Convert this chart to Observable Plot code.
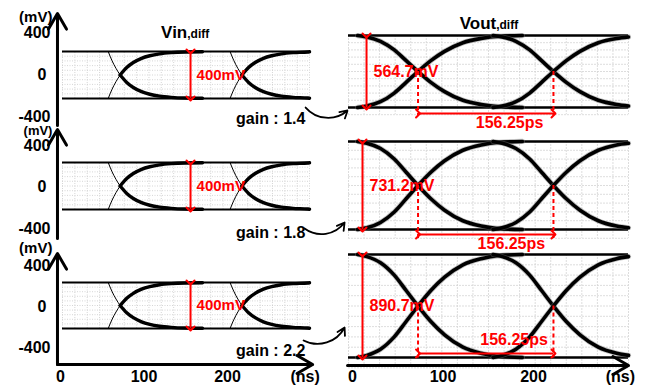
<!DOCTYPE html>
<html><head><meta charset="utf-8">
<script src="https://cdn.jsdelivr.net/npm/d3@7"></script>
<script src="https://cdn.jsdelivr.net/npm/@observablehq/plot@0.6"></script>
<style>
body{margin:0;background:#fff;}
#fig{position:relative;width:649px;height:390px;overflow:hidden;background:#fff;}
#fig svg{position:absolute;left:0;top:0;}
</style></head><body><div id="fig"></div>
<script>
// ---------------- data ----------------
const rowGains = ["gain : 1.4", "gain : 1.8", "gain : 2.2"];
const eyeOpening = ["564.7mV", "731.2mV", "890.7mV"];
const outLevel = [282.35, 365.6, 445.35];   // half eye height (mV)
const vinLevel = 200;                        // 400 mV peak-to-peak
const vinLabel = "400mV";
const uiLabel = "156.25ps";
const yTicks = [400, 0, -400];
const xTicks = [0, 100, 200];

// Vin,diff transitions (time in axis units, value in mV)
const vinPreT1 = [55.5, 60, 65, 70];
const vinPreT2 = [203.5, 208, 213, 218];
const vinPostT1 = [70, 78, 86, 96, 106, 118, 132, 150, 170];
const vinPostT2 = [218, 226, 234, 244, 254, 266, 280, 298, 300];
const vinPreFall = [200, 124, 56, 0];
const vinPreRise = [-200, -124, -56, 0];
const vinPostFall = [0, -63, -106, -142, -164, -180, -190, -196, -198];
const vinPostRise = [0, 63, 106, 142, 164, 180, 190, 196, 198];

// Vout,diff eye traces
const eyeT1 = [5, 15, 30, 45, 58, 71, 85, 100, 120, 140, 160, 185];
const eyeT2 = [153, 163, 178, 193, 206, 219, 233, 248, 268, 288, 301];
const outFall1 = [
  [282, 271, 237, 169, 85, 0, -85, -158, -226, -259, -276, -282],
  [366, 351, 307, 220, 110, 0, -110, -205, -293, -337, -359, -366],
  [445, 427, 374, 267, 134, 0, -134, -249, -356, -409, -436, -445]];
const outRise1 = [
  [-282, -271, -237, -169, -85, 0, 85, 158, 226, 259, 276, 282],
  [-366, -351, -307, -220, -110, 0, 110, 205, 293, 337, 359, 366],
  [-445, -427, -374, -267, -134, 0, 134, 249, 356, 409, 436, 445]];
const outFall2 = [
  [282, 271, 237, 169, 85, 0, -85, -158, -226, -259, -271],
  [366, 351, 307, 220, 110, 0, -110, -205, -293, -337, -351],
  [445, 427, 374, 267, 134, 0, -134, -249, -356, -409, -427]];
const outRise2 = [
  [-282, -271, -237, -169, -85, 0, 85, 158, 226, 259, 271],
  [-366, -351, -307, -220, -110, 0, 110, 205, 293, 337, 351],
  [-445, -427, -374, -267, -134, 0, 134, 249, 356, 409, 427]];

// ---------------- layout ----------------
const leftRowY = [[98, 51], [209, 162], [328, 282]];
const rightRowY = [[107, 35], [229, 141], [357, 254]];
const axisRowY = [[116, 32], [228, 145], [347, 265]];
const axisLine = [[-486, 581], [-496, 554], [-566, 517]];
const unitY = [545, 540, 566];
const unitSize = [15, 13, 15];
const gainY = [-370, -396, -391];
const curl = [[295.3, -277, 346.3, -302], [294, -362, 342.6, -311], [292.8, -304, 342.6, -191]];
const eyeArrowX = [14.7, 10.3, 10.3];
const eyeLabelX = [22.3, 18, 18];
const dashBottom = [-345, -457, -450];
const uiArrowY = [-329, -407, -411];
const uiLabelPos = [[171, -400], [173, -482], [176, -290]];
const crossT = [71, 219];

const FONT = "Liberation Sans, Arial, Helvetica, sans-serif";
const RED = "#f00";
const fig = document.getElementById("fig");
function layer(xs, ys, marks) {
  const svg = Plot.plot({
    width: 649, height: 390, margin: 0,
    x: {domain: xs.domain, range: xs.range, axis: null},
    y: {domain: ys.domain, range: ys.range, axis: null},
    style: {background: "transparent", overflow: "visible"},
    marks
  });
  fig.appendChild(svg);
}
const txt = (o) => ({fontFamily: FONT, fontWeight: "bold", ...o});

const lx = {domain: [0, 300], range: [62, 309]};
const rx = {domain: [-5, 301], range: [348, 628]};

for (let r = 0; r < 3; r++) {
  // ---- left y axis ----
  layer(lx, {domain: [-400, 400], range: axisRowY[r]}, [
    Plot.arrow([0], {x1: -6.1, x2: -6.1, y1: axisLine[r][0], y2: axisLine[r][1], strokeWidth: 3, headLength: 9, headAngle: 60, stroke: "#000"}),
    Plot.text(yTicks.filter(d => d !== 0), txt({x: -14.6, y: d => d, text: d => String(d), textAnchor: "end", fontSize: 16})),
    Plot.text(yTicks.filter(d => d === 0), txt({x: -14.6, y: d => d, text: d => String(d), textAnchor: "end", dx: -4, fontSize: 16})),
    Plot.text(["(mV)"], txt({x: -12.2, y: unitY[r], textAnchor: "end", fontSize: unitSize[r]}))
  ]);

  // ---- left panel: Vin,diff ----
  const ly = {domain: [-vinLevel, vinLevel], range: leftRowY[r]};
  const marksL = [
    Plot.ruleX(d3.range(0, 301, 15), {y1: -vinLevel, y2: vinLevel, stroke: "#c4c4c4", strokeWidth: 0.7, strokeDasharray: "1,1.5"}),
    Plot.ruleY(d3.range(-160, 161, 40), {x1: 0, x2: 300, stroke: "#c4c4c4", strokeWidth: 0.7, strokeDasharray: "1,1.5"}),
    Plot.ruleY([vinLevel, -vinLevel], {x1: 0, x2: 300, stroke: "#000", strokeWidth: 2}),
    Plot.line(d3.zip(vinPreT1, vinPreFall), {strokeWidth: 1, curve: "monotone-x"}),
    Plot.line(d3.zip(vinPreT1, vinPreRise), {strokeWidth: 1, curve: "monotone-x"}),
    Plot.line(d3.zip(vinPreT2, vinPreFall), {strokeWidth: 1, curve: "monotone-x"}),
    Plot.line(d3.zip(vinPreT2, vinPreRise), {strokeWidth: 1, curve: "monotone-x"}),
    Plot.line(d3.zip(vinPostT1, vinPostFall), {strokeWidth: 3.4, curve: "monotone-x"}),
    Plot.line(d3.zip(vinPostT1, vinPostRise), {strokeWidth: 3.4, curve: "monotone-x"}),
    Plot.line(d3.zip(vinPostT2, vinPostFall), {strokeWidth: 3.4, curve: "monotone-x"}),
    Plot.line(d3.zip(vinPostT2, vinPostRise), {strokeWidth: 3.4, curve: "monotone-x"}),
    Plot.link([0], {x1: 155.5, x2: 155.5, y1: vinLevel, y2: -vinLevel, stroke: RED, strokeWidth: 2, markerStart: "arrow", markerEnd: "arrow"}),
    Plot.text([vinLabel], txt({x: 162.8, y: 0, textAnchor: "start", fontSize: 15, fill: RED})),
    Plot.text([rowGains[r]], txt({x: 295, y: gainY[r], textAnchor: "end", fontSize: 16})),
    Plot.arrow([0], {x1: curl[r][0], y1: curl[r][1], x2: curl[r][2], y2: curl[r][3], bend: -45, strokeWidth: 1.8, headLength: 7, stroke: "#000"})
  ];
  if (r === 0) {
    marksL.push(
      Plot.text(["Vin"], txt({x: 151.5, y: 319, textAnchor: "end", lineAnchor: "bottom", fontSize: 17})),
      Plot.text([",diff"], txt({x: 151.5, y: 319, textAnchor: "start", lineAnchor: "bottom", fontSize: 12}))
    );
  }
  layer(lx, ly, marksL);

  // ---- right panel: Vout,diff ----
  const A = outLevel[r];
  const ry = {domain: [-A, A], range: rightRowY[r]};
  const eye = (t, v) => [
    Plot.line(d3.zip(t, v), {stroke: "#777", strokeWidth: 5.2, strokeOpacity: 0.45, curve: "monotone-x"}),
    Plot.line(d3.zip(t, v), {stroke: "#000", strokeWidth: 3.6, curve: "monotone-x"})
  ];
  const marksR = [
    Plot.ruleX(d3.range(-5, 302, 17), {y1: A, y2: -1.2 * A, stroke: "#d4d4d4", strokeWidth: 0.8, strokeDasharray: "2,1"}),
    Plot.ruleY(d3.range(-6, 5).map(k => k * 0.2 * A), {x1: -5, x2: 301, stroke: "#d4d4d4", strokeWidth: 0.8, strokeDasharray: "2,1"}),
    Plot.ruleY([A, -A], {x1: -5, x2: 301, stroke: "#000", strokeWidth: 2.5}),
    ...eye(eyeT1, outFall1[r]),
    ...eye(eyeT1, outRise1[r]),
    ...eye(eyeT2, outFall2[r]),
    ...eye(eyeT2, outRise2[r]),
    Plot.ruleX(crossT, {y1: 0, y2: dashBottom[r], stroke: RED, strokeWidth: 2, strokeDasharray: "4,3"}),
    Plot.link([0], {x1: eyeArrowX[r], x2: eyeArrowX[r], y1: A, y2: -A, stroke: RED, strokeWidth: 2, markerStart: "arrow", markerEnd: "arrow"}),
    Plot.text([eyeOpening[r]], txt({x: eyeLabelX[r], y: 0, textAnchor: "start", fontSize: 16, fill: RED})),
    Plot.link([0], {x1: crossT[0], x2: crossT[1], y1: uiArrowY[r], y2: uiArrowY[r], stroke: RED, strokeWidth: 2, markerStart: "arrow", markerEnd: "arrow"}),
    Plot.text([uiLabel], txt({x: uiLabelPos[r][0], y: uiLabelPos[r][1], fontSize: 16, fill: RED}))
  ];
  if (r === 0) {
    marksR.push(
      Plot.text(["Vout"], txt({x: 156.4, y: 337, textAnchor: "end", lineAnchor: "bottom", fontSize: 17})),
      Plot.text([",diff"], txt({x: 156.4, y: 337, textAnchor: "start", lineAnchor: "bottom", fontSize: 12}))
    );
  }
  layer(rx, ry, marksR);
}

// ---- bottom x axes ----
layer({domain: [0, 200], range: [60, 227]}, {domain: [0, 1], range: [364, 376]}, [
  Plot.arrow([0], {x1: -3.6, x2: 302, y1: 0, y2: 0, strokeWidth: 3, headLength: 9, headAngle: 60, stroke: "#000"}),
  Plot.text(xTicks, txt({x: d => d, y: 1, text: d => String(d), fontSize: 16})),
  Plot.text(["(ns)"], txt({x: 293, y: 1, fontSize: 16}))
]);
layer({domain: [0, 200], range: [352, 533]}, {domain: [0, 1], range: [365, 376]}, [
  Plot.arrow([0], {x1: -5.5, x2: 305, y1: 0, y2: 0, strokeWidth: 3, headLength: 9, headAngle: 60, stroke: "#000"}),
  Plot.text(xTicks, txt({x: d => d, y: 1, text: d => String(d), fontSize: 16})),
  Plot.text(["(ns)"], txt({x: 296, y: 1, fontSize: 16}))
]);
</script>
</body></html>
